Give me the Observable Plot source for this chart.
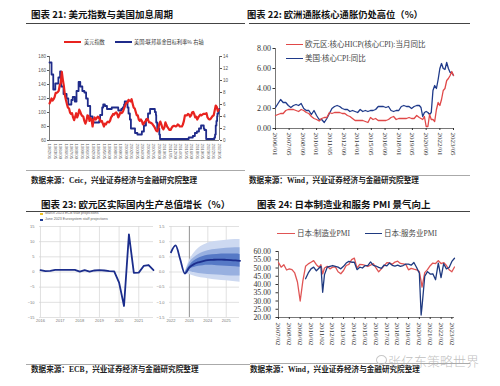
<!DOCTYPE html>
<html><head><meta charset="utf-8">
<script src="https://cdn.jsdelivr.net/npm/d3@7"></script>
<script src="https://cdn.jsdelivr.net/npm/@observablehq/plot@0.6"></script>
<style>
body{margin:0;background:#fff;}
#root{position:relative;width:500px;height:386px;overflow:hidden;background:#fff;font-family:"Noto Sans CJK SC",sans-serif;}
.abs{position:absolute;white-space:nowrap;}
</style></head>
<body><div id="root"></div>
<script>
// ---------- Chart 21 data: US dollar index (quarterly from 1982Q1) & Fed funds target ----------
const dxyQuarterly = [
 113,116,120,117, 119,122,128,128, 129,131,139,142, 158,147,138,125,
 118,112,107,106, 100,98,99,93, 89,94,99,93, 97,104,101,97,
 95,94,88,84, 88,96,95,88, 92,90,80,90, 93,90,92,94,
 93,90,87,88, 84,80,84,83, 86,87,86,88, 93,95,98,97,
 99,100,98,93, 96,100,99,100, 103,107,111,114, 114,118,117,116,
 119,113,107,106, 101,96,96,90, 88,90,88,83, 84,87,88,91,
 90,86,86,85, 84,82,80,77, 74,73,76,84, 87,83,78,76,
 79,86,82,79, 77,75,75,78, 80,81,81,80, 81,83,82,80,
 80,80,83,88, 96,96,96,98, 97,94,96,100, 101,98,93,94,
 90,93,95,97, 96,97,98,98, 98,99,93,91, 90,91,93,95,
 96,103,110,108, 102,104
];
const ffDates = ["1982-01","1982-07","1982-12","1983-06","1984-03","1984-08","1984-11","1985-06","1986-03","1986-08",
 "1987-05","1987-09","1988-03","1988-08","1989-02","1989-07","1990-01","1990-07","1990-12","1991-05","1991-12","1992-07",
 "1994-02","1994-05","1994-11","1995-02","1995-07","1996-01","1997-03","1998-10","1999-07","1999-11","2000-03","2000-05",
 "2001-01","2001-04","2001-08","2001-11","2002-11","2003-06","2004-07","2005-01","2005-07","2006-01","2006-07","2007-09",
 "2007-12","2008-01","2008-04","2008-10","2008-12","2015-12","2016-12","2017-06","2017-12","2018-06","2018-12","2019-08",
 "2019-10","2020-03","2022-03","2022-05","2022-07","2022-09","2022-11","2022-12","2023-03","2023-05","2023-06"];
const ffRates = [13.0,11.0,8.5,9.5,10.5,11.5,9.0,7.75,7.0,6.0,
 6.75,7.25,6.5,8.25,9.75,9.0,8.25,8.0,7.0,5.75,4.0,3.0,
 3.25,4.25,5.5,6.0,5.75,5.25,5.5,5.0,5.25,5.5,6.0,6.5,
 5.5,4.5,3.5,2.0,1.25,1.0,1.5,2.5,3.5,4.5,5.25,4.75,
 4.25,3.0,2.0,1.0,0.25,0.5,0.75,1.25,1.5,2.0,2.5,2.0,
 1.75,0.25,0.5,1.0,2.5,3.25,4.0,4.5,5.0,5.25,5.25];
const dxyTicks = [60,80,100,120,140,160,180];
const rateTicks = [0,2,4,6,8,10,12,14];
const c21XTicks = ["1982/01","1983/05","1984/09","1986/01","1987/05","1988/09","1990/01","1991/05","1992/09","1994/01",
 "1995/05","1996/09","1998/01","1999/05","2000/09","2002/01","2003/05","2004/09","2006/01","2007/05","2008/09","2010/01",
 "2011/05","2012/09","2014/01","2015/05","2016/09","2018/01","2019/05","2020/09","2022/01","2023/05"];

// ---------- Chart 22 data: core inflation (quarterly 2006Q1-2019Q4, then bi-monthly) ----------
const euCoreQ = [1.3,1.4,1.5,1.5, 1.8,1.9,1.9,1.9, 1.8,1.7,1.9,1.8, 1.6,1.5,1.2,1.0, 0.9,0.75,1.0,1.1,
 1.1,1.6,1.5,1.6, 1.6,1.6,1.5,1.5, 1.3,1.2,1.0,0.8, 0.8,0.8,0.8,0.7, 0.6,1.1,0.9,1.0,
 0.8,0.8,0.8,0.8, 0.9,1.1,1.2,0.9, 1.0,1.0,1.0,1.0, 1.1,1.0,1.0,1.3];
const usCoreQ = [2.1,2.5,2.9,2.6, 2.6,2.3,2.1,2.3, 2.4,2.3,2.5,2.0, 1.8,1.8,1.4,1.8, 1.3,0.9,0.9,0.6,
 1.0,1.5,2.0,2.2, 2.3,2.2,2.0,1.9, 1.9,1.7,1.8,1.7, 1.6,1.9,1.7,1.8, 1.7,1.8,1.8,1.9,
 2.2,2.2,2.2,2.1, 2.2,1.8,1.7,1.8, 1.8,2.2,2.3,2.2, 2.2,2.0,2.2,2.3];
const lateMonths = ["2020-01","2020-03","2020-05","2020-07","2020-09","2020-11","2021-01","2021-03","2021-05","2021-07",
 "2021-09","2021-11","2022-01","2022-03","2022-05","2022-07","2022-09","2022-11","2023-01","2023-03","2023-05"];
const euCoreLate = [1.1,1.0,0.9,1.2,0.2,0.2,1.4,0.9,0.9,0.7,1.9,2.6,2.3,2.9,3.8,4.0,4.8,5.0,5.3,5.7,5.3];
const usCoreLate = [2.3,2.1,1.2,1.6,1.7,1.6,1.4,1.6,3.8,4.3,4.0,4.9,6.0,6.5,6.0,5.9,6.6,6.0,5.6,5.6,5.3];
const c22YTicks = [0,2,4,6,8];
const c22XTicks = ["2006/01","2007/05","2008/09","2010/01","2011/05","2012/09","2014/01","2015/05","2016/09",
 "2018/01","2019/05","2020/09","2022/01","2023/05"];

// ---------- Chart 23 data: euro area real GDP growth ----------
const gdpQuarterT = [2016,2016.25,2016.5,2016.75,2017,2017.25,2017.5,2017.75,2018,2018.25,2018.5,2018.75,
 2019,2019.25,2019.5,2019.75,2020,2020.25,2020.5,2020.75,2021,2021.25,2021.5,2021.75];
const gdpQuarter = [0.6,0.3,0.4,0.7,0.7,0.7,0.7,0.7,0.1,0.6,0.1,0.5,0.6,0.5,0.3,0.2,-3.5,-11.2,12.4,-0.3,-0.2,2.0,2.3,0.6];
const projT = [2022,2022.25,2022.5,2022.75,2023,2023.25,2023.5,2023.75,2024,2024.25,2024.5,2024.75,2025,2025.25,2025.5,2025.75];
const projV = [0.65,0.88,0.42,-0.05,0.15,0.26,0.32,0.36,0.39,0.40,0.41,0.41,0.40,0.39,0.38,0.37];
const fanT = [2022.75,2023,2023.25,2023.5,2023.75,2024,2024.5,2025,2025.5,2025.75];
const outerLo = [-0.05,-0.08,-0.13,-0.17,-0.2,-0.22,-0.26,-0.29,-0.32,-0.34];
const outerHi = [-0.05,0.38,0.62,0.78,0.88,0.95,1.01,1.05,1.07,1.07];
const midLo = [-0.05,0.02,-0.02,-0.05,-0.07,-0.08,-0.1,-0.12,-0.13,-0.13];
const midHi = [-0.05,0.3,0.47,0.58,0.65,0.7,0.75,0.78,0.8,0.8];
const innerLo = [-0.05,0.09,0.15,0.19,0.21,0.22,0.21,0.19,0.17,0.16];
const innerHi = [-0.05,0.2,0.36,0.45,0.51,0.55,0.58,0.59,0.59,0.58];
const gdpLeftYTicks = [-15,-10,-5,0,5,10,15];
const gdpLeftXTicks = [2016,2017,2018,2019,2020,2021];
const gdpRightYTicks = [-1.5,-1,-0.5,0,0.5,1,1.5];
const gdpRightXTicks = [2022,2023,2024,2025];

// ---------- Chart 24 data: Japan PMI ----------
const pmiMonths = ["2007-02","2007-05","2007-08","2007-11","2008-02","2008-05","2008-08","2008-11","2009-02","2009-05",
 "2009-08","2009-11","2010-02","2010-05","2010-08","2010-11","2011-01","2011-03","2011-05","2011-08","2011-11",
 "2012-02","2012-05","2012-08","2012-11","2013-02","2013-05","2013-08","2013-11","2014-02","2014-05","2014-08","2014-11",
 "2015-02","2015-05","2015-08","2015-11","2016-02","2016-05","2016-08","2016-11","2017-02","2017-05","2017-08","2017-11",
 "2018-02","2018-05","2018-08","2018-11","2019-02","2019-05","2019-08","2019-11","2020-02","2020-04","2020-05","2020-08",
 "2020-11","2021-02","2021-05","2021-08","2021-11","2022-02","2022-05","2022-08","2022-11","2023-02","2023-05"];
const pmiMfg = [53.3,50.5,52.0,48.8,49.5,49.0,47.0,41.5,30.0,42.0,
 51.0,52.5,53.5,54.5,52.0,50.5,52.0,46.4,50.0,51.0,49.5,
 50.5,50.7,47.7,46.5,48.5,51.5,52.2,55.1,56.0,49.9,52.2,52.0,
 51.6,50.9,51.7,52.6,50.1,47.7,49.5,51.3,53.3,53.1,52.2,53.6,
 54.1,52.8,52.5,52.2,48.9,49.8,49.3,48.9,47.8,41.9,38.4,47.2,
 49.0,51.4,53.0,52.7,54.5,52.7,53.3,51.5,49.0,47.7,50.6];
const pmiSvc = [null,null,null,null,null,null,null,null,null,null,
 43.5,47.0,49.5,50.5,48.3,50.0,51.0,35.3,46.0,50.5,51.0,
 51.5,51.0,50.5,49.5,51.0,53.0,54.0,53.5,53.5,49.0,50.5,50.0,
 51.5,51.5,53.7,51.6,51.2,50.4,49.8,51.8,51.3,53.0,51.6,51.2,
 51.7,51.0,51.5,52.3,52.3,51.7,53.3,50.3,46.8,21.5,26.5,45.0,
 47.8,46.3,46.5,42.9,53.0,44.2,52.6,49.5,50.3,54.0,55.9];
const pmiYTicks = [20,25,30,35,40,45,50,55,60];
const pmiXTicks = ["2007/02","2008/02","2009/02","2010/02","2011/02","2012/02","2013/02","2014/02","2015/02","2016/02",
 "2017/02","2018/02","2019/02","2020/02","2021/02","2022/02","2023/02"];

// ---------- helpers ----------
const root = document.getElementById("root");
const ym = s => new Date(Date.UTC(+s.slice(0,4), +s.slice(5,7)-1, 1));
function txt(s, x, y, size, st = {}) {
  const d = document.createElement("div");
  d.className = "abs"; d.textContent = s;
  d.style.left = x + "px"; d.style.top = (y - size * 0.5) + "px";
  d.style.fontSize = size + "px"; d.style.lineHeight = size + "px";
  Object.assign(d.style, st); root.append(d); return d;
}
function hline(x1, x2, y, color, w) {
  const d = document.createElement("div");
  Object.assign(d.style, {position:"absolute", left:x1+"px", width:(x2-x1)+"px", top:(y-w/2)+"px", height:w+"px", background:color});
  root.append(d);
}
function layer(o) {
  const style = Object.assign({background:"transparent", overflow:"visible", maxWidth:"none"}, o.style || {});
  const svg = Plot.plot(Object.assign({width:500, height:386}, o, {style}));
  svg.style.position = "absolute"; svg.style.left = "0px"; svg.style.top = "0px";
  root.append(svg);
}
const serif = "'Liberation Serif','Noto Sans CJK SC',serif";
const sans = "'Liberation Sans','Noto Sans CJK SC',sans-serif";

// ---------- titles, rules, sources ----------
const T = {fontWeight:"700", color:"#111", fontFamily:"'Noto Sans CJK SC',sans-serif"};
txt("图表 21:  美元指数与美国加息周期", 31, 15, 9.5, T);
txt("图表 22:  欧洲通胀核心通胀仍处高位（%）", 247, 15, 9.3, T);
txt("图表 23:  欧元区实际国内生产总值增长（%）", 41, 205, 9.5, T);
txt("图表 24:  日本制造业和服务 PMI 景气向上", 257, 205, 9.5, T);
hline(26, 245, 23.5, "#444", 1); hline(249, 470, 23.5, "#444", 1);
hline(26, 250, 211.5, "#444", 1); hline(250, 470, 211, "#444", 1);
hline(26, 245, 170, "#aaa", 0.8); hline(249, 470, 175, "#aaa", 0.8);
hline(26, 250, 364, "#aaa", 0.8); hline(250, 470, 363.5, "#aaa", 0.8);
const S = {fontWeight:"700", color:"#222", fontFamily:serif};
txt("数据来源：Ceic，兴业证券经济与金融研究院整理", 31, 180.5, 7.6, S);
txt("数据来源：Wind，兴业证券经济与金融研究院整理", 249, 180.5, 7.6, S);
txt("数据来源：ECB，兴业证券经济与金融研究院整理", 31, 370, 7.6, S);
txt("数据来源：Wind，兴业证券经济与金融研究院整理", 250, 370, 7.6, S);

// legends
hline(64, 81, 42, "#e8231f", 2.2); txt("美元指数", 84, 42, 5.2, {color:"#333"});
hline(115, 132, 42, "#1f2b8a", 2); txt("美国:联邦基金目标利率% 右轴", 134, 42, 5.2, {color:"#333"});
hline(286, 303, 44.7, "#e04848", 1.4); txt("欧元区:核心HICP(核心CPI):当月同比", 305, 44.7, 7.5, {color:"#444", fontFamily:serif});
hline(286, 303, 58.3, "#1f3a8a", 1.4); txt("美国:核心CPI:同比", 305, 58.3, 7.5, {color:"#444", fontFamily:serif});
hline(277, 295, 233.3, "#e05555", 1.4); txt("日本:制造业PMI", 297, 233.3, 7.5, {color:"#444", fontFamily:serif});
hline(365, 382, 233.3, "#1f3a80", 1.4); txt("日本:服务业PMI", 384, 233.3, 7.5, {color:"#444", fontFamily:serif});
hline(40, 43, 214, "#f0c020", 2); txt("March 2023 ECB staff projections", 45, 214, 3.6, {color:"#666", fontFamily:sans});
hline(40, 43, 220, "#1f3a93", 2); txt("June 2023 Eurosystem staff projections", 45, 220, 3.6, {color:"#666", fontFamily:sans});

// ---------- Chart 21 ----------
const t0_21 = ym("1982-01"), t1_21 = ym("2023-06");
const dxyData = dxyQuarterly.map((v, i) => ({date: d3.utcMonth.offset(t0_21, 3 * i), v}));
const ffData = ffDates.map((s, i) => ({date: ym(s), v: ffRates[i]}));
const toLeft = r => 60 + r * 120 / 14;
layer({
  marginLeft:49, marginRight:281, marginTop:56, marginBottom:246,
  x:{type:"utc", domain:[t0_21, t1_21]}, y:{domain:[60,180]},
  style:{fontFamily:sans},
  marks:[
    Plot.ruleX([t0_21], {stroke:"#555", strokeWidth:0.8}),
    Plot.ruleX([t1_21], {stroke:"#555", strokeWidth:0.8}),
    Plot.ruleY([60], {stroke:"#555", strokeWidth:0.8}),
    Plot.axisY({ticks:dxyTicks, tickSize:2, tickPadding:1.5, fontSize:4.6, color:"#555", label:null}),
    Plot.axisY({anchor:"right", ticks:rateTicks.map(toLeft), tickFormat:v => String(Math.round((v - 60) * 14 / 120)),
      tickSize:2, tickPadding:1.5, fontSize:4.6, color:"#555", label:null}),
    Plot.axisX({ticks:c21XTicks.map(ym), tickFormat:d3.utcFormat("%Y/%m"), tickRotate:90, textAnchor:"start", lineAnchor:"middle",
      tickSize:0, tickPadding:3, fontSize:4.3, color:"#666", label:null}),
    Plot.line(ffData, {x:"date", y:d => toLeft(d.v), curve:"step-after", stroke:"#1f2b8a", strokeWidth:1.8}),
    Plot.line(dxyData, {x:"date", y:"v", stroke:"#e8231f", strokeWidth:2.2})
  ]
});

// ---------- Chart 22 ----------
const t0_22 = ym("2006-01"), t1_22 = ym("2023-05");
const core = euCoreQ.map((v, i) => ({date:d3.utcMonth.offset(t0_22, 3 * i), eu:v, us:usCoreQ[i]}))
  .concat(lateMonths.map((s, i) => ({date:ym(s), eu:euCoreLate[i], us:usCoreLate[i]})));
layer({
  marginLeft:275, marginRight:47, marginTop:48, marginBottom:258,
  x:{type:"utc", domain:[t0_22, t1_22]}, y:{domain:[0,8]},
  style:{fontFamily:serif},
  marks:[
    Plot.ruleX([t0_22], {stroke:"#555", strokeWidth:0.8}),
    Plot.ruleY([0], {stroke:"#555", strokeWidth:0.8}),
    Plot.axisY({ticks:c22YTicks, tickFormat:d3.format(".2f"), tickSize:2.5, tickPadding:2, fontSize:8, color:"#333", label:null}),
    Plot.axisX({ticks:c22XTicks.map(ym), tickFormat:d3.utcFormat("%Y/%m"), tickRotate:90, textAnchor:"start", lineAnchor:"middle",
      tickSize:2, tickPadding:2, fontSize:7, color:"#333", label:null}),
    Plot.line(core, {x:"date", y:"us", stroke:"#1f3a8a", strokeWidth:1.3}),
    Plot.line(core, {x:"date", y:"eu", stroke:"#e04848", strokeWidth:1.3})
  ]
});

// ---------- Chart 23 left ----------
const gdpLeft = gdpQuarterT.map((t, i) => ({t, v:gdpQuarter[i]}));
layer({
  marginLeft:39, marginRight:347, marginTop:226, marginBottom:69,
  x:{domain:[2015.95, 2021.75]}, y:{domain:[-15,15]},
  style:{fontFamily:sans},
  marks:[
    Plot.gridY({ticks:gdpLeftYTicks, stroke:"#d4d4d4", strokeOpacity:1, strokeWidth:0.7}),
    Plot.gridX({ticks:gdpLeftXTicks, stroke:"#d4d4d4", strokeOpacity:1, strokeWidth:0.7}),
    Plot.axisY({ticks:gdpLeftYTicks, tickSize:0, tickPadding:5, fontSize:4, color:"#777", label:null}),
    Plot.axisX({ticks:gdpLeftXTicks, tickFormat:d => String(d), tickSize:0, tickPadding:2, fontSize:4, color:"#777", label:null}),
    Plot.line(gdpLeft, {x:"t", y:"v", stroke:"#1b2d8c", strokeWidth:1.8})
  ]
});

// ---------- Chart 23 right ----------
const fan = fanT.map((t, i) => ({t, oLo:outerLo[i], oHi:outerHi[i], mLo:midLo[i], mHi:midHi[i], iLo:innerLo[i], iHi:innerHi[i]}));
const proj = projT.map((t, i) => ({t, v:projV[i]}));
layer({
  marginLeft:169, marginRight:261, marginTop:226, marginBottom:69,
  x:{domain:[2021.92, 2025.72]}, y:{domain:[-1.5,1.5]},
  style:{fontFamily:sans},
  marks:[
    Plot.gridY({ticks:gdpRightYTicks, stroke:"#d4d4d4", strokeOpacity:1, strokeWidth:0.7}),
    Plot.gridX({ticks:gdpRightXTicks, stroke:"#d4d4d4", strokeOpacity:1, strokeWidth:0.7}),
    Plot.ruleX([2023], {stroke:"#999", strokeWidth:1}),
    Plot.axisY({ticks:gdpRightYTicks, tickFormat:d3.format(".1f"), tickSize:0, tickPadding:5, fontSize:4, color:"#777", label:null}),
    Plot.axisX({ticks:gdpRightXTicks, tickFormat:d => String(d), tickSize:0, tickPadding:2, fontSize:4, color:"#777", label:null}),
    Plot.areaY(fan, {x:"t", y1:"oLo", y2:"oHi", fill:"#cdd9f1", curve:"monotone-x"}),
    Plot.areaY(fan, {x:"t", y1:"mLo", y2:"mHi", fill:"#98b0e0", curve:"monotone-x"}),
    Plot.areaY(fan, {x:"t", y1:"iLo", y2:"iHi", fill:"#5679c6", curve:"monotone-x"}),
    Plot.line(proj, {x:"t", y:"v", stroke:"#1b2d8c", strokeWidth:1.8, curve:"monotone-x"})
  ]
});

// ---------- Chart 24 ----------
const t0_24 = ym("2007-02"), t1_24 = ym("2023-05");
const pmi = pmiMonths.map((s, i) => ({date:ym(s), mfg:pmiMfg[i], svc:pmiSvc[i]}));
layer({
  marginLeft:278, marginRight:46, marginTop:251, marginBottom:69,
  x:{type:"utc", domain:[t0_24, t1_24]}, y:{domain:[20,60]},
  style:{fontFamily:serif},
  marks:[
    Plot.ruleX([t0_24], {stroke:"#555", strokeWidth:0.8}),
    Plot.ruleY([20], {stroke:"#555", strokeWidth:0.8}),
    Plot.axisY({ticks:pmiYTicks, tickFormat:d3.format(".2f"), tickSize:2.5, tickPadding:5, fontSize:7.8, color:"#333", label:null}),
    Plot.axisX({ticks:pmiXTicks.map(ym), tickFormat:d3.utcFormat("%Y/%m"), tickRotate:90, textAnchor:"start", lineAnchor:"middle",
      tickSize:2, tickPadding:3, fontSize:7, color:"#333", label:null}),
    Plot.line(pmi, {x:"date", y:"mfg", stroke:"#e05555", strokeWidth:1.3}),
    Plot.line(pmi.filter(d => d.svc != null), {x:"date", y:"svc", stroke:"#1f3a80", strokeWidth:1.3})
  ]
});

// watermark
const ic = document.createElement("div");
Object.assign(ic.style, {position:"absolute", left:"376px", top:"355px", width:"9px", height:"8px", border:"1px solid #c8c8c8", borderRadius:"50%"});
root.append(ic);
txt("张亿东策略世界", 388, 360, 13, {color:"rgba(170,170,170,0.75)", fontFamily:"'Noto Sans CJK SC',sans-serif", fontWeight:"300"});
</script>
</body></html>
